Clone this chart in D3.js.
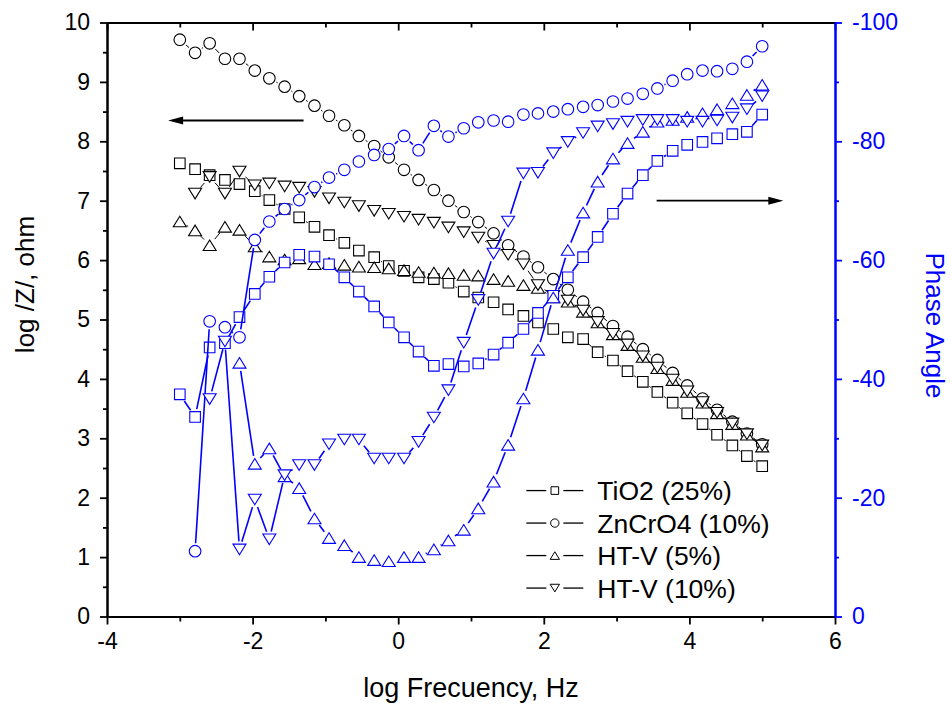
<!DOCTYPE html>
<html>
<head>
<meta charset="utf-8">
<script src="https://cdnjs.cloudflare.com/ajax/libs/d3/7.8.5/d3.min.js"></script>
<style>
body { margin: 0; background: #fff; }
text { font-family: "Liberation Sans", Arial, sans-serif; }
</style>
</head>
<body>
<div id="chart"></div>
<script>
// Data
var logF = [-3.00, -2.79, -2.59, -2.38, -2.18, -1.97, -1.77, -1.56, -1.36, -1.15,
    -0.95, -0.74, -0.54, -0.33, -0.13, 0.08, 0.28, 0.49, 0.69, 0.90,
    1.10, 1.31, 1.51, 1.72, 1.92, 2.13, 2.33, 2.54, 2.74, 2.95,
    3.15, 3.36, 3.56, 3.77, 3.97, 4.18, 4.38, 4.59, 4.79, 5.00];

// log |Z| (left axis)
var tio2Z = [7.63, 7.53, 7.43, 7.35, 7.28, 7.16, 7.01, 6.86, 6.72, 6.56,
    6.42, 6.29, 6.16, 6.05, 5.90, 5.82, 5.71, 5.68, 5.62, 5.47,
    5.37, 5.29, 5.17, 5.06, 4.95, 4.84, 4.70, 4.67, 4.45, 4.31,
    4.13, 3.95, 3.78, 3.60, 3.42, 3.24, 3.06, 2.88, 2.70, 2.53];
var znZ = [9.71, 9.49, 9.65, 9.39, 9.39, 9.19, 9.06, 8.92, 8.76, 8.60,
    8.43, 8.27, 8.09, 7.92, 7.73, 7.52, 7.35, 7.18, 7.00, 6.81,
    6.64, 6.45, 6.25, 6.06, 5.88, 5.68, 5.50, 5.30, 5.11, 4.89,
    4.71, 4.50, 4.32, 4.10, 3.89, 3.67, 3.48, 3.28, 3.08, 2.90];
var ht5Z = [6.65, 6.50, 6.25, 6.56, 6.51, 6.23, 6.06, 6.01, 6.03, 5.93,
    5.95, 5.92, 5.89, 5.88, 5.86, 5.83, 5.80, 5.79, 5.78, 5.75,
    5.74, 5.68, 5.65, 5.58, 5.53, 5.37, 5.30, 5.13, 4.95, 4.75,
    4.57, 4.37, 4.18, 3.98, 3.78, 3.60, 3.42, 3.24, 3.06, 2.86];
var ht10Z = [null, 7.12, 7.40, 7.12, 7.49, 7.26, 7.29, 7.24, 7.22, 7.15,
    7.04, 6.97, 6.91, 6.83, 6.78, 6.73, 6.68, 6.63, 6.55, 6.47,
    6.38, 6.24, 6.09, 5.93, 5.58, 5.40, 5.32, 5.15, 4.96, 4.76,
    4.58, 4.38, 4.19, 3.99, 3.79, 3.61, 3.43, 3.25, 3.07, 2.88];

// phase angle, degrees (right axis)
var tio2P = [-37.4, -33.6, -45.3, -46.0, -50.4, -54.3, -57.2, -59.6, -60.9, -60.6,
    -59.3, -57.1, -54.7, -52.2, -49.5, -47.0, -44.6, -42.2, -42.5, -42.1,
    -42.6, -44.1, -46.1, -48.4, -51.1, -54.0, -57.1, -60.5, -63.9, -67.8,
    -71.2, -74.3, -76.7, -78.4, -79.4, -79.9, -80.5, -81.2, -81.6, -84.5];
var znP = [null, -11.0, -49.7, -48.7, -47.0, -63.4, -66.5, -68.6, -70.1, -72.3,
    -73.9, -75.2, -76.6, -77.7, -78.7, -80.9, -78.5, -82.6, -80.8, -82.2,
    -83.2, -83.5, -83.3, -84.5, -84.7, -85.0, -85.4, -85.8, -86.1, -86.7,
    -87.2, -88.0, -88.9, -90.2, -91.3, -91.9, -91.8, -92.2, -93.4, -96.0];
var ht5P = [null, null, null, null, -42.7, -25.7, -28.3, -23.6, -21.6, -16.5,
    -13.2, -12.0, -10.0, -9.5, -9.3, -10.0, -10.0, -11.3, -12.8, -14.6,
    -18.2, -22.7, -28.9, -36.7, -44.9, -53.7, -61.7, -68.0, -73.2, -77.1,
    -79.7, -81.6, -83.3, -83.6, -84.1, -84.7, -85.4, -86.4, -87.8, -89.5];
var ht10P = [null, null, -36.6, -46.3, -11.3, -19.7, -13.0, -23.8, -25.5, -25.5,
    -29.0, -29.8, -29.8, -26.6, -26.6, -26.6, -29.4, -33.5, -38.1, -46.1,
    -53.3, -61.1, -66.5, -74.6, -74.7, -78.0, -79.9, -81.4, -82.5, -82.9,
    -83.3, -83.6, -83.6, -83.6, -83.3, -83.3, -83.5, -84.0, -85.4, -87.6];

var seriesNames = ["TiO2 (25%)", "ZnCrO4 (10%)", "HT-V (5%)", "HT-V (10%)"];
var seriesShapes = ["square", "circle", "up", "down"];

// Chart Params
var svgWidth = 952;
var svgHeight = 709;
var margin = { top: 22.5, right: 117, bottom: 92.5, left: 107 };
var width = svgWidth - margin.left - margin.right;
var height = svgHeight - margin.top - margin.bottom;

var blue = "#0000ff";

var svg = d3.select("#chart")
    .append("svg")
    .attr("width", svgWidth)
    .attr("height", svgHeight);

var chartGroup = svg.append("g")
    .attr("transform", `translate(${margin.left}, ${margin.top})`);

var x = d3.scaleLinear().domain([-4, 6]).range([0, width]);
var yL = d3.scaleLinear().domain([0, 10]).range([height, 0]);
var yR = d3.scaleLinear().domain([0, -100]).range([height, 0]);

// plain hyphen minus like the original
var plainFmt = d => String(d);

// marker path around 0,0
function markerPath(shape, s) {
    if (shape === "circle") {
        var r = 5.8 * s;
        return `M${r},0A${r},${r} 0 1,1 ${-r},0A${r},${r} 0 1,1 ${r},0Z`;
    }
    if (shape === "square") {
        var h = 5.3 * s;
        return `M${-h},${-h}H${h}V${h}H${-h}Z`;
    }
    var w = 6.5 * s, t = 5.3 * s;
    if (shape === "up") return `M0,${-t}L${w},${t}L${-w},${t}Z`;
    return `M0,${t}L${w},${-t}L${-w},${-t}Z`;
}

// connecting segments with a gap round each marker
function gapSegments(vals, yScale, gap) {
    var segs = [];
    for (var i = 0; i < vals.length - 1; i++) {
        if (vals[i] == null || vals[i + 1] == null) continue;
        var x1 = x(logF[i]), y1 = yScale(vals[i]);
        var x2 = x(logF[i + 1]), y2 = yScale(vals[i + 1]);
        var dx = x2 - x1, dy = y2 - y1;
        var len = Math.sqrt(dx * dx + dy * dy);
        if (len <= 2 * gap + 1) continue;
        var ux = dx / len, uy = dy / len;
        segs.push([x1 + ux * gap, y1 + uy * gap, x2 - ux * gap, y2 - uy * gap]);
    }
    return segs;
}

function drawSeries(vals, yScale, shape, color, lineWidth) {
    var g = chartGroup.append("g");
    g.selectAll("line")
        .data(gapSegments(vals, yScale, 8))
        .enter()
        .append("line")
        .attr("x1", d => d[0]).attr("y1", d => d[1])
        .attr("x2", d => d[2]).attr("y2", d => d[3])
        .attr("stroke", color)
        .attr("stroke-width", lineWidth);
    var pts = vals.map((v, i) => [logF[i], v]).filter(d => d[1] != null);
    g.selectAll("path")
        .data(pts)
        .enter()
        .append("path")
        .attr("transform", d => `translate(${x(d[0])}, ${yScale(d[1])})`)
        .attr("d", markerPath(shape, 1))
        .attr("fill", "white")
        .attr("stroke", color)
        .attr("stroke-width", 1.1);
}

// log|Z| series (black)
drawSeries(tio2Z, yL, "square", "#000", 1);
drawSeries(znZ, yL, "circle", "#000", 1);
drawSeries(ht5Z, yL, "up", "#000", 1);
drawSeries(ht10Z, yL, "down", "#000", 1);

// phase series (blue)
drawSeries(tio2P, yR, "square", blue, 1.6);
drawSeries(znP, yR, "circle", blue, 1.6);
drawSeries(ht5P, yR, "up", blue, 1.6);
drawSeries(ht10P, yR, "down", blue, 1.6);

// axes
function styleAxis(g, color, fontSize) {
    g.selectAll(".domain").attr("stroke", color).attr("stroke-width", 2);
    g.selectAll(".tick line").attr("stroke", color).attr("stroke-width", 1.8);
    g.selectAll("text").attr("fill", color)
        .style("font-family", "'Liberation Sans', Arial, sans-serif")
        .style("font-size", fontSize);
}

var bottomAxis = chartGroup.append("g")
    .attr("transform", `translate(0, ${height})`)
    .call(d3.axisBottom(x).tickValues([-4, -2, 0, 2, 4, 6]).tickFormat(plainFmt).tickSize(8).tickSizeOuter(0).tickPadding(8));
styleAxis(bottomAxis, "#000", "23px");
var bottomMinor = chartGroup.append("g")
    .attr("transform", `translate(0, ${height})`)
    .call(d3.axisBottom(x).tickValues([-3, -1, 1, 3, 5]).tickSize(5).tickSizeOuter(0).tickFormat(""));
styleAxis(bottomMinor, "#000", "23px");

var topAxis = chartGroup.append("g")
    .call(d3.axisBottom(x).tickValues([-4, -2, 0, 2, 4, 6]).tickSize(8).tickSizeOuter(0).tickFormat(""));
styleAxis(topAxis, "#000", "23px");
var topMinor = chartGroup.append("g")
    .call(d3.axisBottom(x).tickValues([-3, -1, 1, 3, 5]).tickSize(5).tickSizeOuter(0).tickFormat(""));
styleAxis(topMinor, "#000", "23px");

var leftAxis = chartGroup.append("g")
    .call(d3.axisLeft(yL).tickValues(d3.range(0, 11)).tickFormat(plainFmt).tickSize(7).tickSizeOuter(0).tickPadding(10));
styleAxis(leftAxis, "#000", "23px");
var leftMinor = chartGroup.append("g")
    .call(d3.axisLeft(yL).tickValues(d3.range(0.5, 10, 1)).tickSize(4).tickSizeOuter(0).tickFormat(""));
styleAxis(leftMinor, "#000", "23px");

var rightAxis = chartGroup.append("g")
    .attr("transform", `translate(${width}, 0)`)
    .call(d3.axisRight(yR).tickValues([0, -20, -40, -60, -80, -100]).tickFormat(plainFmt).tickSize(7).tickSizeOuter(0).tickPadding(10));
styleAxis(rightAxis, blue, "23px");
var rightMinor = chartGroup.append("g")
    .attr("transform", `translate(${width}, 0)`)
    .call(d3.axisRight(yR).tickValues([-10, -30, -50, -70, -90]).tickSize(4).tickSizeOuter(0).tickFormat(""));
styleAxis(rightMinor, blue, "23px");

// axis titles
chartGroup.append("text")
    .attr("x", x(1))
    .attr("y", height + 80)
    .attr("text-anchor", "middle")
    .attr("font-size", "27px")
    .text("log Frecuency, Hz");

chartGroup.append("text")
    .attr("transform", "rotate(-90)")
    .attr("x", -262)
    .attr("y", 25 - margin.left)
    .attr("dy", "0.35em")
    .attr("text-anchor", "middle")
    .attr("font-size", "26px")
    .text("log /Z/, ohm");

chartGroup.append("text")
    .attr("transform", "rotate(90)")
    .attr("x", yR(-49))
    .attr("y", -(width + 100))
    .attr("dy", "0.35em")
    .attr("text-anchor", "middle")
    .attr("font-size", "26px")
    .attr("fill", blue)
    .text("Phase Angle");

// arrows
function arrow(x1, x2, yPix) {
    var dir = x2 > x1 ? 1 : -1;
    chartGroup.append("line")
        .attr("x1", x1).attr("y1", yPix)
        .attr("x2", x2 - dir * 12).attr("y2", yPix)
        .attr("stroke", "#000").attr("stroke-width", 1.8);
    chartGroup.append("path")
        .attr("d", `M${x2},${yPix}L${x2 - dir * 15},${yPix - 4}L${x2 - dir * 15},${yPix + 4}Z`)
        .attr("fill", "#000");
}
arrow(x(-1.3), x(-3.16), yL(8.35));
arrow(x(3.55), x(5.29), yR(-70));

// legend
var legend = chartGroup.append("g")
    .attr("transform", `translate(${x(1.76)}, ${yL(2.12)})`);
var legendRows = legend.selectAll("g")
    .data(seriesNames)
    .enter()
    .append("g")
    .attr("transform", (d, i) => `translate(0, ${i * 32.5})`);
legendRows.append("line")
    .attr("x1", 0).attr("x2", 20).attr("y1", 0).attr("y2", 0)
    .attr("stroke", "#000").attr("stroke-width", 1.3);
legendRows.append("line")
    .attr("x1", 37).attr("x2", 57).attr("y1", 0).attr("y2", 0)
    .attr("stroke", "#000").attr("stroke-width", 1.3);
legendRows.append("path")
    .attr("transform", "translate(28.5, 0)")
    .attr("d", (d, i) => markerPath(seriesShapes[i], 0.72))
    .attr("fill", "white")
    .attr("stroke", "#000")
    .attr("stroke-width", 1);
legendRows.append("text")
    .attr("x", 71)
    .attr("dy", "0.36em")
    .attr("font-size", "26.5px")
    .text(d => d);
</script>
</body>
</html>
